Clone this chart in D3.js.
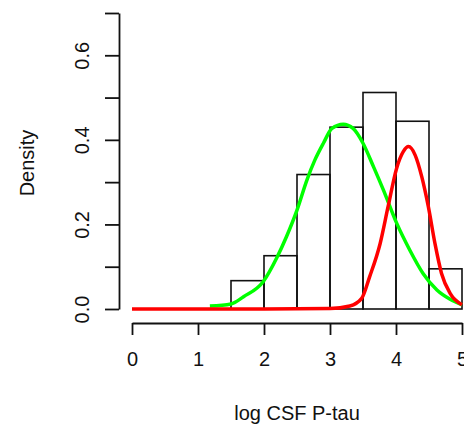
<!DOCTYPE html>
<html>
<head>
<meta charset="utf-8">
<script src="https://cdn.jsdelivr.net/npm/d3@7"></script>
<style>
  body { margin: 0; background: #fff; }
  svg text { font-family: "Liberation Sans", Arial, sans-serif; fill: #111; }
</style>
</head>
<body>
<svg id="chart" width="464" height="426"></svg>
<script>
// histogram of log CSF P-tau (density scale)
const binEdges = [1.5, 2, 2.5, 3, 3.5, 4, 4.5, 5];
const binDensity = [0.067, 0.126, 0.318, 0.43, 0.512, 0.444, 0.095];

// green fitted curve
const greenX = [1.18, 1.5, 1.69, 1.99, 2.19, 2.34, 2.5, 2.65, 2.77, 2.9, 3.03, 3.2, 3.35, 3.5, 3.66, 3.81, 4.01, 4.21, 4.41, 4.62, 4.82, 5.0];
const greenY = [0.007, 0.012, 0.029, 0.065, 0.12, 0.171, 0.234, 0.305, 0.352, 0.392, 0.427, 0.437, 0.427, 0.392, 0.336, 0.281, 0.203, 0.139, 0.084, 0.045, 0.023, 0.01];

// red fitted curve
const redX = [0, 1, 2, 3, 3.3, 3.48, 3.6, 3.76, 3.88, 4.01, 4.11, 4.19, 4.29, 4.39, 4.49, 4.59, 4.69, 4.82, 5.0];
const redY = [0, 0, 0, 0.001, 0.007, 0.025, 0.076, 0.155, 0.242, 0.333, 0.372, 0.384, 0.364, 0.313, 0.242, 0.155, 0.084, 0.037, 0.01];

const xTicks = [0, 1, 2, 3, 4, 5];
const yTicks = [0, 0.1, 0.2, 0.3, 0.4, 0.5, 0.6, 0.7];
const yLabels = ['0.0', '', '0.2', '', '0.4', '', '0.6', ''];

const svg = d3.select('#chart');
const x = d3.scaleLinear().domain([0, 5]).range([132, 462]);
const y = d3.scaleLinear().domain([0, 0.7]).range([309, 13]);

// bars
const bins = binDensity.map((d, i) => ({ x0: binEdges[i], x1: binEdges[i + 1], d: d }));
svg.append('g')
  .selectAll('rect')
  .data(bins)
  .join('rect')
  .attr('x', d => x(d.x0))
  .attr('y', d => y(d.d))
  .attr('width', d => x(d.x1) - x(d.x0))
  .attr('height', d => y(0) - y(d.d))
  .attr('fill', 'none')
  .attr('stroke', '#111')
  .attr('stroke-width', 1.6);

const line = d3.line().x(d => x(d[0])).y(d => y(d[1])).curve(d3.curveMonotoneX);

svg.append('path')
  .datum(d3.zip(greenX, greenY))
  .attr('d', line)
  .attr('fill', 'none')
  .attr('stroke', '#00ff00')
  .attr('stroke-width', 3.5)
  .attr('stroke-linejoin', 'round');

svg.append('path')
  .datum(d3.zip(redX, redY))
  .attr('d', line)
  .attr('fill', 'none')
  .attr('stroke', '#ff0000')
  .attr('stroke-width', 3.5)
  .attr('stroke-linejoin', 'round');

// axes, R style
const xAxis = svg.append('g')
  .attr('transform', 'translate(0,323)')
  .call(d3.axisBottom(x).tickValues(xTicks).tickSize(12).tickSizeOuter(0).tickPadding(17).tickFormat(d3.format('d')));

const yAxis = svg.append('g')
  .attr('transform', 'translate(119,0)')
  .call(d3.axisLeft(y).tickValues(yTicks).tickSize(14).tickSizeOuter(0).tickFormat((d, i) => yLabels[i]));

[xAxis, yAxis].forEach(g => {
  g.selectAll('path, line').attr('stroke', '#111').attr('stroke-width', 1.8);
  g.selectAll('text').style('font-size', '20px').attr('fill', '#111');
});

yAxis.selectAll('text')
  .attr('text-anchor', 'middle')
  .attr('x', 0)
  .attr('dy', 0)
  .attr('y', -30)
  .attr('transform', 'rotate(-90)');

svg.append('text')
  .attr('x', 297)
  .attr('y', 420)
  .attr('text-anchor', 'middle')
  .style('font-size', '20px')
  .text('log CSF P-tau');

svg.append('text')
  .attr('transform', 'translate(34,163) rotate(-90)')
  .attr('text-anchor', 'middle')
  .style('font-size', '20px')
  .text('Density');
</script>
</body>
</html>
